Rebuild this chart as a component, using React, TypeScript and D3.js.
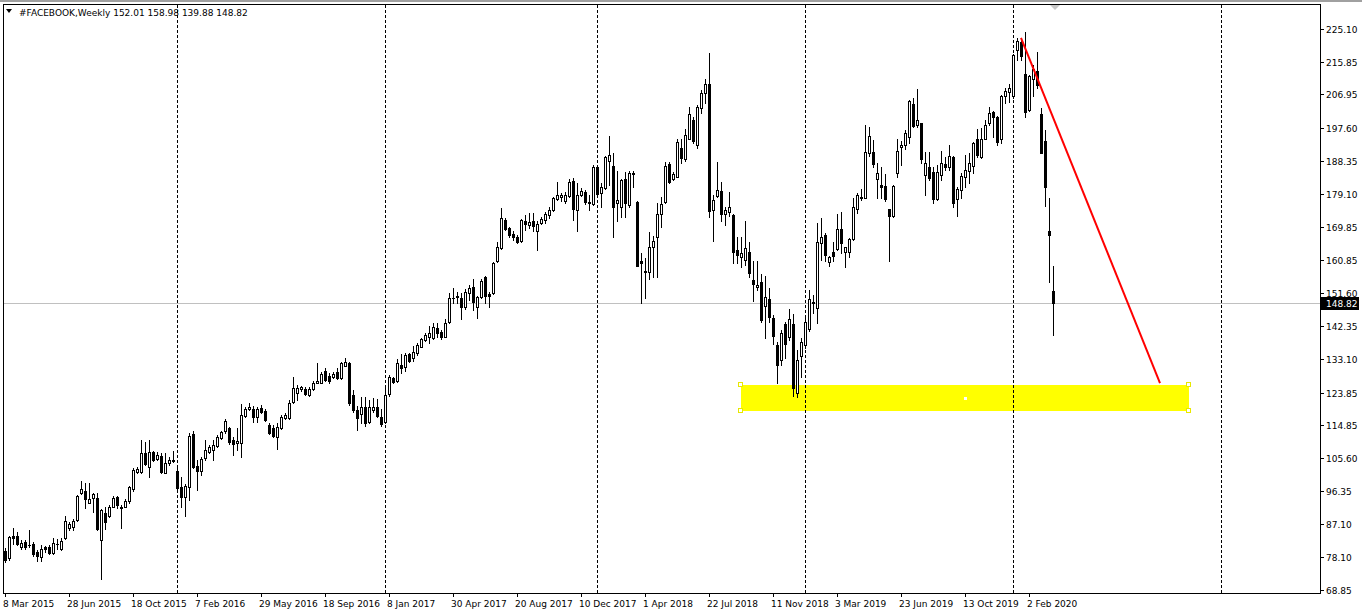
import React, { useEffect } from 'react';
import * as d3 from 'd3';

// ---- DATA (weekly OHLC, [open, high, low, close]) ----
const firstWeek = new Date(2015, 2, 8);
const symbolTitle = '#FACEBOOK,Weekly';
const lastQuote = [152.01, 158.98, 139.88, 148.82];

const ohlc2015: number[][] = [
  [79.8, 80.5, 76.7, 77.2], [77.7, 83.9, 77.2, 83.5], [83.8, 86.0, 81.8, 83.2], [83.9, 85.1, 81.4, 81.7],
  [80.7, 82.8, 80.4, 82.0], [82.1, 82.8, 80.2, 80.7], [81.4, 85.6, 80.9, 81.4], [81.8, 82.3, 78.3, 78.9],
  [79.4, 80.0, 77.0, 78.3], [78.1, 81.4, 76.9, 80.2], [80.7, 81.1, 79.5, 80.2], [80.7, 81.4, 78.9, 79.2],
  [79.2, 83.2, 78.9, 82.0], [81.8, 83.0, 80.4, 81.8], [80.4, 83.2, 80.0, 82.5], [83.2, 89.5, 83.0, 88.1],
  [86.0, 87.9, 85.6, 87.2], [86.3, 88.5, 85.7, 88.1], [88.3, 95.3, 88.2, 95.0], [95.8, 99.2, 95.6, 96.9],
  [96.4, 98.7, 91.6, 94.1], [93.2, 98.7, 93.0, 94.2], [94.4, 96.0, 90.7, 95.6], [94.5, 96.0, 85.6, 85.8],
  [82.8, 91.5, 72.0, 91.0], [90.4, 92.1, 85.8, 87.9], [89.5, 92.5, 89.3, 92.1], [92.1, 94.9, 91.9, 94.4],
  [94.7, 95.0, 91.6, 92.5], [91.8, 92.5, 86.0, 92.1], [92.1, 94.1, 91.9, 93.5], [93.5, 97.8, 93.2, 97.6],
  [96.9, 102.7, 96.5, 102.3], [101.8, 103.2, 101.5, 102.5], [101.8, 110.6, 101.5, 106.9], [107.1, 110.2, 103.7, 103.9],
  [103.2, 110.6, 100.2, 107.4], [107.4, 107.6, 104.9, 105.1], [105.3, 107.4, 105.1, 106.5], [106.2, 106.9, 101.5, 101.8],
  [101.5, 107.1, 101.3, 104.1], [104.1, 106.0, 103.7, 105.1], [105.0, 107.6, 104.6, 104.9],
];
const ohlc2016: number[][] = [
  [102.0, 103.4, 96.7, 97.2], [97.6, 100.4, 92.1, 94.7], [94.7, 98.5, 89.5, 97.8], [97.6, 112.7, 93.9, 111.7],
  [112.3, 113.0, 102.7, 103.2], [103.5, 105.0, 96.8, 102.0], [102.0, 106.0, 101.0, 105.3], [105.5, 110.6, 105.1, 107.8],
  [107.4, 109.2, 106.9, 108.6], [107.8, 110.6, 105.1, 109.2], [109.0, 112.0, 108.8, 111.4], [111.1, 113.2, 110.8, 112.8],
  [113.0, 116.4, 112.7, 115.9], [113.9, 114.2, 109.5, 110.2], [110.6, 111.6, 106.5, 109.4], [109.7, 113.9, 107.9, 110.4],
  [109.9, 120.7, 106.0, 117.6], [117.4, 119.9, 116.9, 119.3], [119.3, 121.0, 119.0, 119.7], [119.3, 120.1, 115.7, 117.1],
  [117.1, 119.9, 115.7, 119.3], [119.6, 120.3, 118.1, 118.3], [118.7, 119.2, 116.0, 116.2], [114.8, 115.5, 112.3, 112.7],
  [113.9, 114.8, 111.4, 111.8], [111.4, 115.5, 108.0, 114.2], [113.9, 117.6, 113.6, 117.1], [116.7, 118.1, 116.4, 117.6],
  [116.7, 121.8, 116.4, 120.8], [121.3, 128.1, 121.0, 125.0], [123.8, 126.0, 121.8, 125.0], [124.8, 125.7, 124.4, 125.3],
  [124.8, 125.3, 123.2, 123.4], [123.3, 125.3, 122.9, 124.8], [124.7, 127.2, 124.5, 126.6], [126.6, 132.0, 126.4, 127.0],
  [126.6, 129.7, 126.4, 129.0], [129.8, 130.6, 127.1, 127.3], [128.4, 129.2, 126.6, 127.1], [128.1, 129.7, 127.8, 129.0],
  [129.7, 130.6, 127.5, 127.8], [127.8, 132.4, 127.5, 132.0], [131.3, 133.4, 131.1, 132.4], [132.0, 132.4, 120.4, 120.8],
  [123.2, 124.6, 118.5, 119.0], [119.0, 120.1, 113.4, 116.7], [117.9, 122.7, 115.3, 119.9], [119.9, 122.5, 114.5, 115.3],
  [115.7, 121.8, 115.5, 119.7], [119.0, 122.2, 118.5, 119.7], [119.9, 122.0, 116.9, 117.3], [117.1, 119.4, 114.5, 115.1],
];
const ohlc2017: number[][] = [
  [115.7, 125.0, 115.5, 123.3], [123.4, 128.6, 123.0, 128.1], [127.8, 128.3, 126.6, 126.9], [127.2, 133.1, 126.9, 132.0],
  [131.5, 134.6, 129.4, 130.6], [130.9, 134.9, 129.9, 134.3], [134.5, 134.8, 132.4, 132.7], [133.4, 136.8, 132.7, 135.1],
  [134.9, 137.6, 134.3, 137.0], [136.6, 138.9, 136.4, 138.7], [138.5, 140.3, 138.3, 139.9], [139.4, 142.4, 137.6, 140.3],
  [139.0, 143.1, 138.7, 142.2], [141.7, 143.3, 139.4, 140.3], [140.6, 141.3, 138.7, 139.4], [139.4, 144.2, 139.2, 143.3],
  [143.6, 151.5, 143.3, 150.1], [150.1, 153.1, 148.7, 150.3], [150.4, 151.9, 148.7, 150.6], [150.1, 151.5, 144.2, 147.8],
  [147.8, 152.6, 147.0, 151.8], [151.7, 153.8, 149.6, 153.1], [153.3, 155.4, 146.7, 149.2], [147.8, 150.7, 144.5, 150.4],
  [150.4, 155.4, 150.1, 155.0], [155.9, 156.3, 148.7, 150.7], [151.3, 151.9, 147.6, 150.7], [151.5, 160.3, 151.3, 160.0],
  [160.5, 165.9, 160.2, 164.4], [164.0, 175.2, 163.8, 172.4], [171.9, 172.4, 169.1, 169.3], [169.6, 170.0, 167.3, 167.7],
  [168.0, 168.9, 166.3, 167.1], [167.3, 167.7, 165.4, 165.9], [166.1, 172.1, 165.9, 171.9], [171.7, 173.3, 169.1, 170.8],
  [170.5, 173.8, 169.6, 171.4], [171.7, 173.8, 168.9, 170.2], [168.7, 171.7, 163.5, 170.8], [171.2, 172.8, 170.8, 172.1],
  [171.9, 174.2, 171.0, 173.6], [173.3, 175.6, 172.4, 174.7], [174.7, 178.2, 174.5, 177.9], [177.7, 182.6, 177.5, 178.9],
  [178.2, 179.3, 177.3, 178.8], [177.3, 179.8, 176.5, 178.9], [178.6, 183.2, 178.2, 182.6], [182.9, 183.5, 171.9, 174.9],
  [174.7, 182.1, 168.7, 178.9], [178.9, 180.7, 178.6, 180.1], [179.8, 180.3, 176.4, 177.0], [176.7, 178.9, 174.7, 176.9],
  [176.4, 187.2, 176.1, 186.8],
];
const ohlc2018: number[][] = [
  [186.7, 187.0, 178.9, 179.1], [179.3, 182.3, 175.6, 181.2], [180.7, 189.7, 180.4, 189.5], [188.4, 195.3, 181.6, 190.0],
  [186.9, 190.5, 167.1, 175.6], [176.7, 185.6, 171.7, 177.4], [175.6, 183.2, 172.8, 183.0], [183.2, 185.3, 172.8, 176.5],
  [176.1, 185.6, 175.6, 184.9], [185.1, 185.6, 181.2, 184.7], [177.0, 177.2, 159.0, 159.1], [160.6, 162.6, 148.7, 159.8],
  [157.8, 161.2, 150.1, 157.3], [157.5, 168.6, 155.6, 164.3], [164.3, 167.4, 155.9, 166.0], [167.1, 176.7, 155.9, 173.7],
  [173.6, 178.4, 170.0, 176.4], [176.8, 188.1, 176.5, 186.9], [187.5, 188.1, 182.3, 182.6], [183.2, 185.3, 183.0, 184.7],
  [184.0, 194.6, 183.8, 193.7], [191.9, 194.4, 187.7, 189.1], [188.8, 197.2, 188.4, 195.6], [194.6, 203.5, 194.4, 201.4],
  [199.7, 200.5, 193.4, 194.0], [192.8, 203.9, 191.9, 203.3], [203.0, 208.1, 201.6, 207.2], [207.2, 211.1, 204.6, 209.8],
  [209.8, 218.3, 172.8, 174.5], [174.7, 178.9, 166.1, 177.5], [178.6, 188.1, 178.2, 180.2], [180.0, 182.6, 171.7, 173.6],
  [173.7, 175.6, 170.5, 174.7], [174.2, 179.8, 173.0, 175.6], [173.3, 173.6, 159.8, 163.1], [163.5, 167.2, 160.0, 162.1],
  [161.5, 167.2, 158.9, 162.6], [160.8, 171.7, 159.4, 164.0], [163.1, 165.9, 155.9, 157.2], [155.2, 160.6, 149.4, 154.1],
  [153.2, 160.6, 152.4, 153.8], [154.7, 157.0, 143.6, 144.0], [147.9, 156.3, 138.9, 150.4], [149.8, 152.9, 143.6, 145.0],
  [144.5, 145.4, 137.5, 139.6], [137.1, 138.0, 126.6, 131.5], [132.9, 141.3, 131.5, 140.3], [142.9, 143.6, 133.4, 137.4],
  [139.4, 147.0, 138.5, 144.2], [142.9, 145.7, 122.9, 125.0], [123.6, 135.7, 122.7, 132.9], [134.1, 138.9, 128.3, 137.8],
];
const ohlc2019: number[][] = [
  [137.1, 145.0, 136.2, 143.4], [141.5, 152.4, 141.1, 149.8], [149.0, 151.0, 145.9, 148.9], [147.3, 171.2, 143.1, 165.7],
  [165.4, 172.4, 160.8, 167.3], [167.7, 168.2, 160.6, 162.1], [160.3, 161.9, 159.1, 161.5], [162.9, 165.9, 160.6, 162.0],
  [163.7, 173.6, 163.5, 169.4], [169.4, 174.2, 162.6, 165.6], [163.1, 164.5, 158.9, 164.3], [162.9, 166.8, 161.7, 166.6],
  [166.5, 177.9, 166.3, 175.4], [174.9, 179.5, 173.9, 178.9], [178.0, 180.4, 177.5, 178.3], [178.1, 198.4, 177.9, 190.9],
  [190.7, 197.7, 189.7, 195.3], [190.9, 194.2, 186.6, 187.5], [183.2, 187.9, 177.9, 185.1], [181.6, 186.8, 177.9, 181.0],
  [181.4, 184.7, 177.3, 177.7], [175.1, 175.1, 160.6, 173.0], [173.0, 181.6, 172.8, 181.4], [184.9, 194.6, 184.0, 191.2],
  [192.2, 193.9, 187.2, 192.8], [192.8, 196.9, 191.6, 196.2], [194.9, 205.3, 193.4, 205.0], [204.2, 205.8, 197.9, 198.1],
  [198.4, 208.3, 197.9, 199.8], [198.8, 199.0, 187.9, 188.8], [184.4, 190.9, 178.9, 187.7], [186.6, 190.9, 183.0, 183.5],
  [185.4, 186.6, 176.7, 177.7], [177.7, 187.2, 177.5, 185.4], [184.4, 191.2, 183.0, 187.7], [187.5, 189.5, 185.8, 186.8],
  [186.6, 192.8, 185.8, 189.7], [189.4, 189.7, 175.6, 176.7], [177.7, 181.0, 173.0, 180.4], [180.2, 184.9, 177.9, 184.2],
  [183.8, 190.0, 181.2, 185.8], [185.6, 190.5, 182.1, 187.7], [186.9, 193.7, 184.9, 193.3], [194.4, 197.2, 189.5, 190.0],
  [189.5, 197.4, 189.3, 194.6], [194.6, 199.8, 194.4, 198.4], [199.0, 203.5, 198.4, 201.8], [202.1, 202.4, 194.9, 200.7],
  [200.7, 200.9, 192.8, 193.7], [194.6, 206.7, 193.3, 206.4], [206.3, 208.6, 204.4, 207.8], [207.5, 209.7, 204.9, 208.6],
];
const ohlc2020: number[][] = [
  [206.3, 218.0, 206.0, 217.9], [219.3, 222.5, 216.5, 221.8], [221.6, 222.7, 216.5, 217.7], [212.5, 224.2, 200.7, 201.9],
  [202.5, 212.3, 202.3, 212.1], [211.2, 215.1, 206.3, 213.9], [213.4, 218.6, 208.6, 209.5], [201.3, 203.2, 190.7, 190.7],
  [193.9, 197.0, 175.9, 181.2], [168.8, 178.1, 154.7, 167.7], [152.01, 158.98, 139.88, 148.82],
];

const priceTickLabels = ['225.10', '215.85', '206.95', '197.60', '188.35', '179.10', '169.85', '160.85', '151.60',
  '142.35', '133.10', '123.85', '114.85', '105.60', '96.35', '87.10', '78.10', '68.85'];
const dateTickLabels = ['8 Mar 2015', '28 Jun 2015', '18 Oct 2015', '7 Feb 2016', '29 May 2016', '18 Sep 2016',
  '8 Jan 2017', '30 Apr 2017', '20 Aug 2017', '10 Dec 2017', '1 Apr 2018', '22 Jul 2018', '11 Nov 2018',
  '3 Mar 2019', '23 Jun 2019', '13 Oct 2019', '2 Feb 2020'];
const dateTickEvery = 16; // bars between date labels

// analysis objects (bar index, price)
const trendLinePoints = [[254, 222.6], [288.75, 126.5]];
const supportZone = { fromBar: 184, toBar: 296, top: 126.0, bottom: 118.7 };

// ---- LAYOUT ----
const W = 1362, H = 614;
const plotLeft = 3, plotRight = 1320, plotTop = 4, plotBottom = 593;
const FONT = '"DejaVu Sans", Tahoma, sans-serif';

export default function App() {
  useEffect(() => {
    document.body.style.margin = '0';
    document.body.style.background = '#fff';
  }, []);

  const candles = [...ohlc2015, ...ohlc2016, ...ohlc2017, ...ohlc2018, ...ohlc2019, ...ohlc2020]
    .map(([o, h, l, c], i) => ({ i, o, h, l, c, date: d3.timeWeek.offset(firstWeek, i) }));

  const totalBars = Math.floor((plotRight - 5) / 4);
  const x = d3.scaleLinear().domain([0, totalBars]).range([5, 5 + 4 * totalBars]);
  const y = d3.scaleLinear().domain([68.85, 225.10]).range([590, 29]);

  // year separators (first bar of each calendar year, including future bars)
  const separators: number[] = [];
  for (let i = 1; i <= totalBars; i++) {
    const d0 = d3.timeWeek.offset(firstWeek, i - 1), d1 = d3.timeWeek.offset(firstWeek, i);
    if (d1.getFullYear() !== d0.getFullYear()) separators.push(i);
  }

  const bidY = Math.round(y(lastQuote[3])) + 0.5;
  const zx0 = Math.round(x(supportZone.fromBar)), zx1 = Math.round(x(supportZone.toBar));
  const zy0 = Math.round(y(supportZone.top)), zy1 = Math.round(y(supportZone.bottom));
  const line = d3.line<number[]>().x(d => x(d[0])).y(d => y(d[1]));

  return (
    <svg width={W} height={H} style={{ display: 'block' }} xmlns="http://www.w3.org/2000/svg">
      <rect x={0} y={0} width={W} height={H} fill="#fff" />
      <rect x={0} y={0} width={W} height={2} fill="#a0a0a0" />

      <defs>
        <clipPath id="plot">
          <rect x={plotLeft + 1} y={plotTop + 1} width={plotRight - plotLeft - 1} height={plotBottom - plotTop - 1} />
        </clipPath>
      </defs>

      <g clipPath="url(#plot)">
        {/* support zone (background object) */}
        <rect x={zx0} y={zy0} width={zx1 - zx0} height={zy1 - zy0} fill="#ffff00" />

        {/* period separators */}
        {separators.map(i => (
          <line key={i} x1={Math.round(x(i)) + 0.5} x2={Math.round(x(i)) + 0.5} y1={plotTop + 1} y2={plotBottom}
            stroke="#000" strokeDasharray="3,2" />
        ))}

        {/* bid line */}
        <line x1={plotLeft} x2={plotRight} y1={bidY} y2={bidY} stroke="#c0c0c0" />

        {/* candles */}
        {candles.map(d => {
          const cx = Math.round(x(d.i));
          const yo = Math.round(y(d.o)), yc = Math.round(y(d.c));
          const yh = Math.round(y(d.h)), yl = Math.round(y(d.l));
          const bull = d.c >= d.o;
          const top = Math.min(yo, yc), bot = Math.max(yo, yc);
          return (
            <g key={d.i}>
              <line x1={cx + 0.5} x2={cx + 0.5} y1={yh} y2={yl + 1} stroke="#000" />
              {bot - top < 1
                ? <line x1={cx - 1} x2={cx + 2} y1={top + 0.5} y2={top + 0.5} stroke="#000" />
                : <rect x={cx - 0.5} y={top + 0.5} width={2} height={bot - top} fill={bull ? '#fff' : '#000'} stroke="#000" />}
            </g>
          );
        })}

        {/* trend line */}
        <path d={line(trendLinePoints) || ''} stroke="#ff0000" strokeWidth={2} fill="none" />

        {/* selection handles of the zone */}
        {[[zx0, zy0], [zx1, zy0], [zx0, zy1], [zx1, zy1]].map(([hx, hy], k) => (
          <rect key={k} x={hx - 2.5} y={hy - 2.5} width={4} height={4} fill="#fff" stroke="#e8e800" />
        ))}
        <rect x={Math.round((zx0 + zx1) / 2) - 1} y={Math.round((zy0 + zy1) / 2) - 1} width={3} height={3} fill="#fff" />

        {/* chart shift marker */}
        <path d="M1050,5 L1060,5 L1055,10 Z" fill="#c8c8c8" />
      </g>

      {/* frame */}
      <rect x={plotLeft + 0.5} y={plotTop + 0.5} width={plotRight - plotLeft} height={plotBottom - plotTop}
        fill="none" stroke="#000" />

      {/* header */}
      <path d="M6,9 L12,9 L9,13 Z" fill="#000" />
      <text x={19} y={16} fontFamily={FONT} fontSize={9} fill="#000">
        {symbolTitle} {lastQuote.map(v => v.toFixed(2)).join(' ')}
      </text>

      {/* price axis */}
      {priceTickLabels.map(t => {
        const ty = Math.round(y(+t)) + 0.5;
        return (
          <g key={t}>
            <line x1={plotRight} x2={plotRight + 4} y1={ty} y2={ty} stroke="#000" />
            <text x={plotRight + 6} y={ty + 3.5} fontFamily={FONT} fontSize={9} fill="#000">{t}</text>
          </g>
        );
      })}
      <rect x={plotRight + 1} y={bidY - 6.5} width={38} height={13} fill="#000" />
      <text x={plotRight + 6} y={bidY + 3.5} fontFamily={FONT} fontSize={9} fill="#fff">{lastQuote[3].toFixed(2)}</text>

      {/* time axis */}
      {dateTickLabels.map((t, k) => {
        const tx = Math.round(x(k * dateTickEvery));
        return (
          <g key={t}>
            <line x1={tx + 0.5} x2={tx + 0.5} y1={plotBottom} y2={plotBottom + 4} stroke="#000" />
            <text x={tx - 2} y={plotBottom + 14} fontFamily={FONT} fontSize={9} fill="#000">{t}</text>
          </g>
        );
      })}
    </svg>
  );
}
